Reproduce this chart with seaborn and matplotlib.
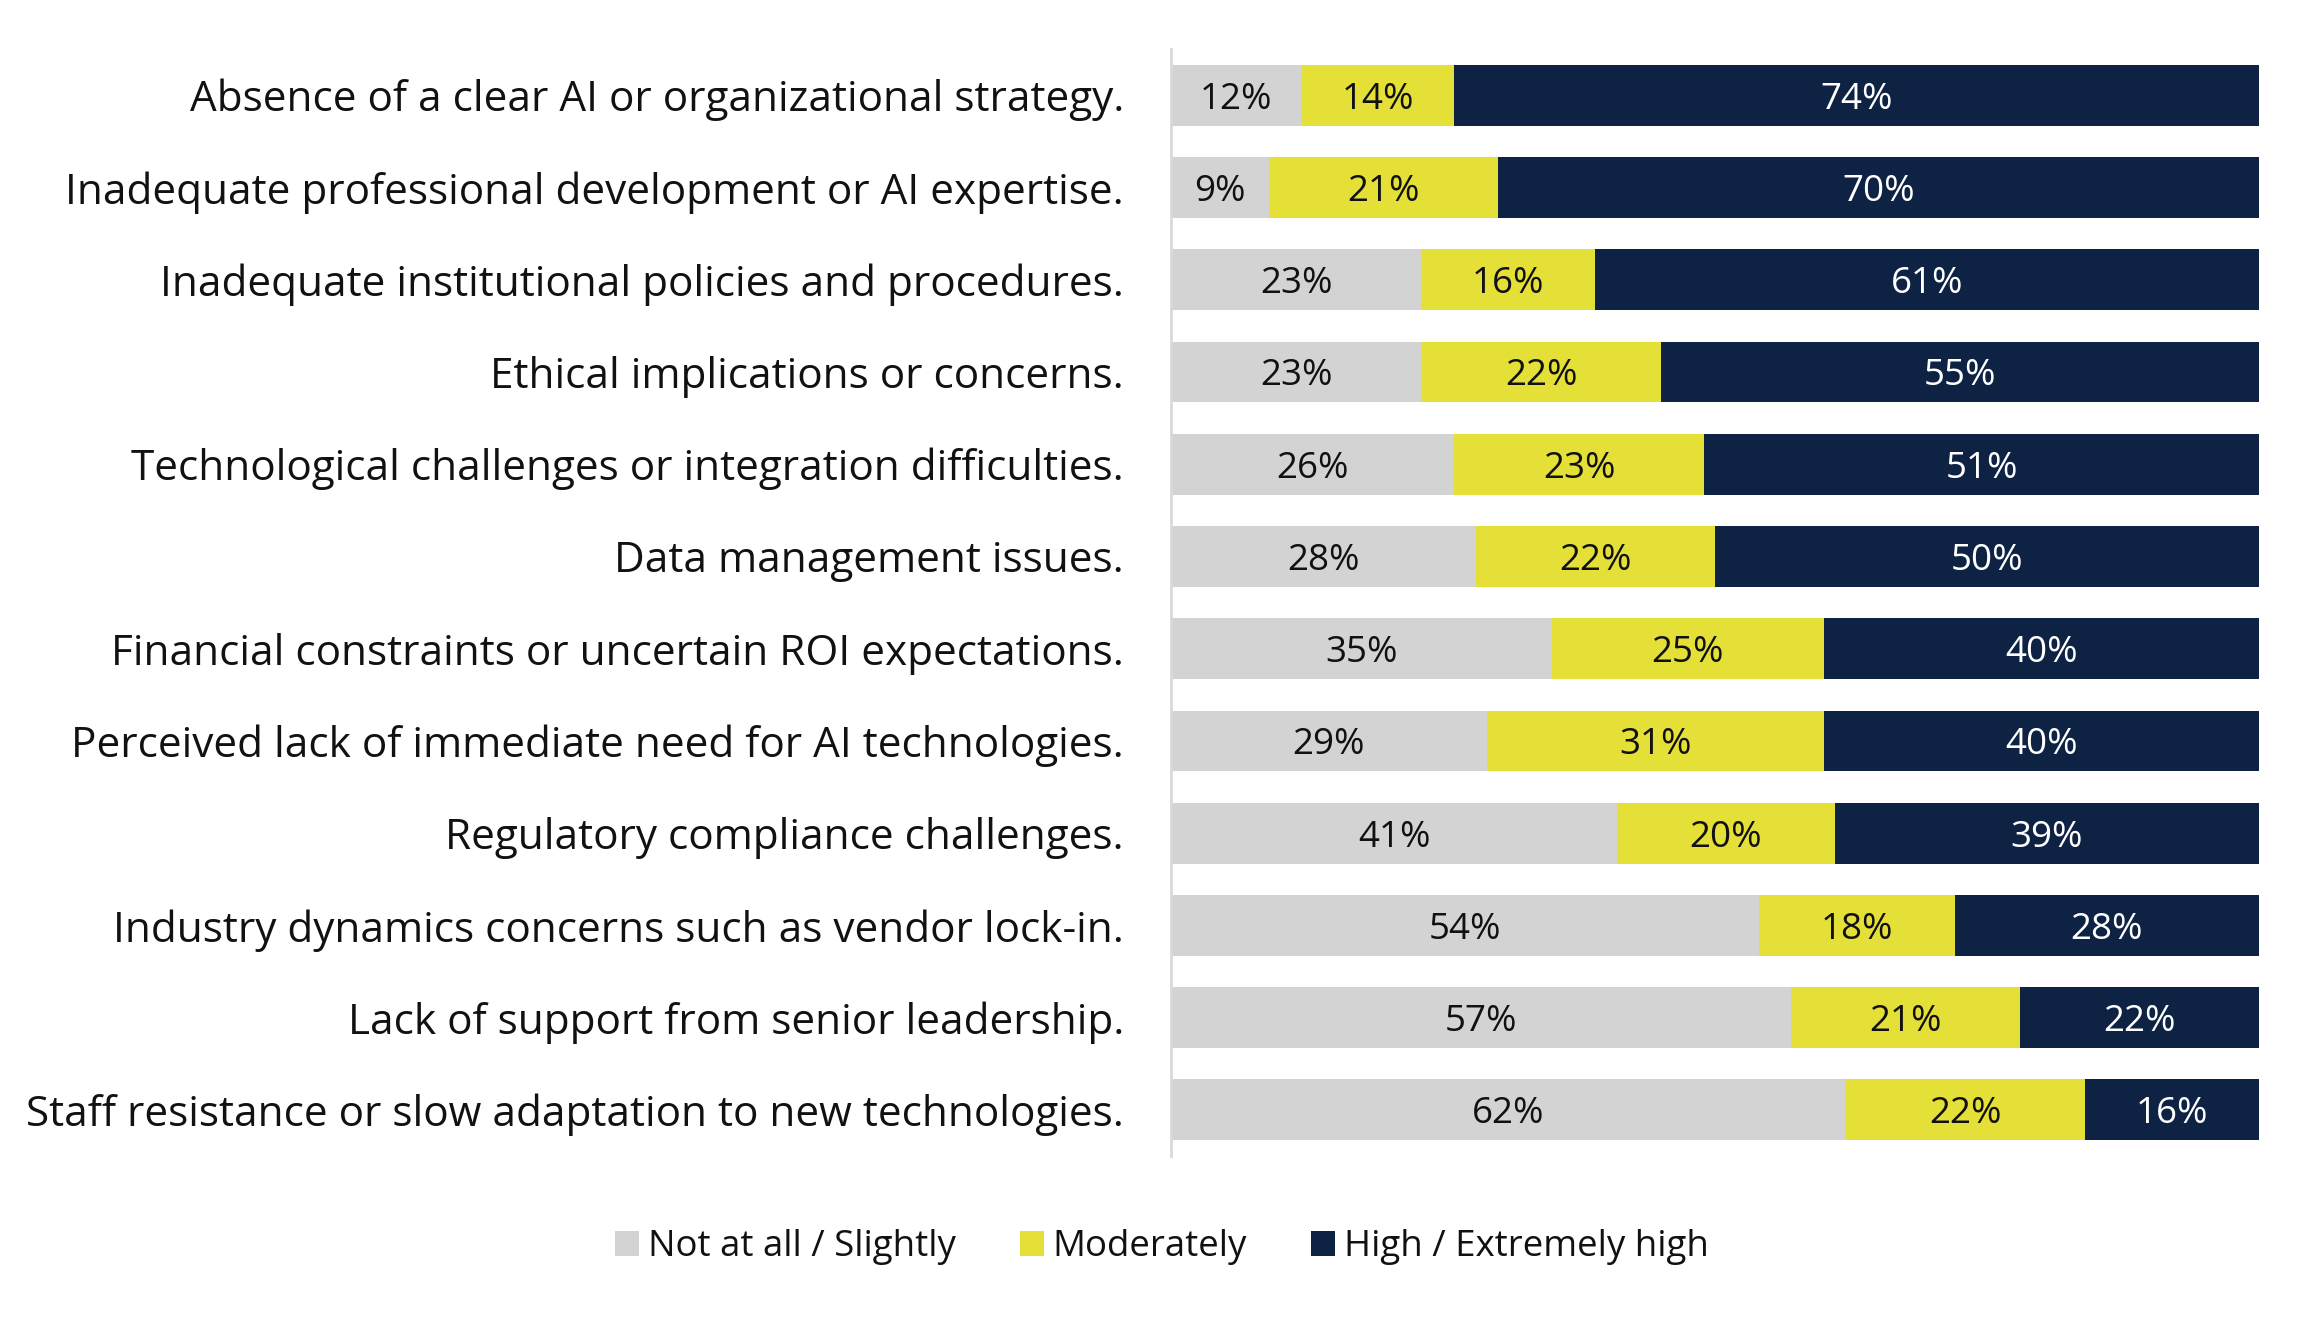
import matplotlib
matplotlib.use("Agg")
import matplotlib.pyplot as plt
import seaborn as sns
import pandas as pd
import numpy as np
from matplotlib.patches import Patch

sns.set_theme(style="white")
plt.rcParams['font.family'] = ['Open Sans', 'DejaVu Sans']

categories = [
    "Absence of a clear AI or organizational strategy.",
    "Inadequate professional development or AI expertise.",
    "Inadequate institutional policies and procedures.",
    "Ethical implications or concerns.",
    "Technological challenges or integration difficulties.",
    "Data management issues.",
    "Financial constraints or uncertain ROI expectations.",
    "Perceived lack of immediate need for AI technologies.",
    "Regulatory compliance challenges.",
    "Industry dynamics concerns such as vendor lock-in.",
    "Lack of support from senior leadership.",
    "Staff resistance or slow adaptation to new technologies.",
]
not_at_all = [12, 9, 23, 23, 26, 28, 35, 29, 41, 54, 57, 62]
moderately = [14, 21, 16, 22, 23, 22, 25, 31, 20, 18, 21, 22]
high = [74, 70, 61, 55, 51, 50, 40, 40, 39, 28, 22, 16]
series_names = ["Not at all / Slightly", "Moderately", "High / Extremely high"]
colors = ["#D3D3D3", "#E5E038", "#0E2244"]

df = pd.DataFrame({"category": categories, "s1": not_at_all, "s2": moderately, "s3": high})
df["c1"] = df["s1"]
df["c2"] = df["s1"] + df["s2"]
df["c3"] = df["s1"] + df["s2"] + df["s3"]

fig = plt.figure(figsize=(23.1, 13.2), dpi=100)
ax = fig.add_axes([0.507, 0.1242, 0.471, 0.8386])

for col, color in zip(["c3", "c2", "c1"], colors[::-1]):
    sns.barplot(data=df, x=col, y="category", orient="h", color=color,
                width=0.66, ax=ax, saturation=1, edgecolor="none", linewidth=0)

for i, row in df.iterrows():
    lefts = [0, row["c1"], row["c2"]]
    vals = [row["s1"], row["s2"], row["s3"]]
    for j, (l, v) in enumerate(zip(lefts, vals)):
        ax.text(l + v / 2, i, f"{v}%", ha="center", va="center_baseline",
                fontsize=26.5, color="white" if j == 2 else "#111111")

ax.set_xlim(0, 100)
ax.set_ylim(11.5, -0.5)
ax.set_xlabel("")
ax.set_ylabel("")
ax.set_xticks([])
ax.tick_params(axis="y", length=0, pad=34, labelsize=30.4, labelcolor="#111111")
for s in ["top", "right", "bottom"]:
    ax.spines[s].set_visible(False)
ax.spines["left"].set_color("#D9D9D9")
ax.spines["left"].set_linewidth(2)

handles = [Patch(facecolor=c, edgecolor="none", label=n) for c, n in zip(colors, series_names)]
fig.legend(handles=handles, loc="center", bbox_to_anchor=(0.503, 0.055), ncol=3,
           frameon=False, fontsize=26.4, handlelength=0.65, handleheight=0.65,
           handletextpad=0.25, columnspacing=1.75, labelcolor="#111111")

fig.savefig("out.png", dpi=100, facecolor="white")
